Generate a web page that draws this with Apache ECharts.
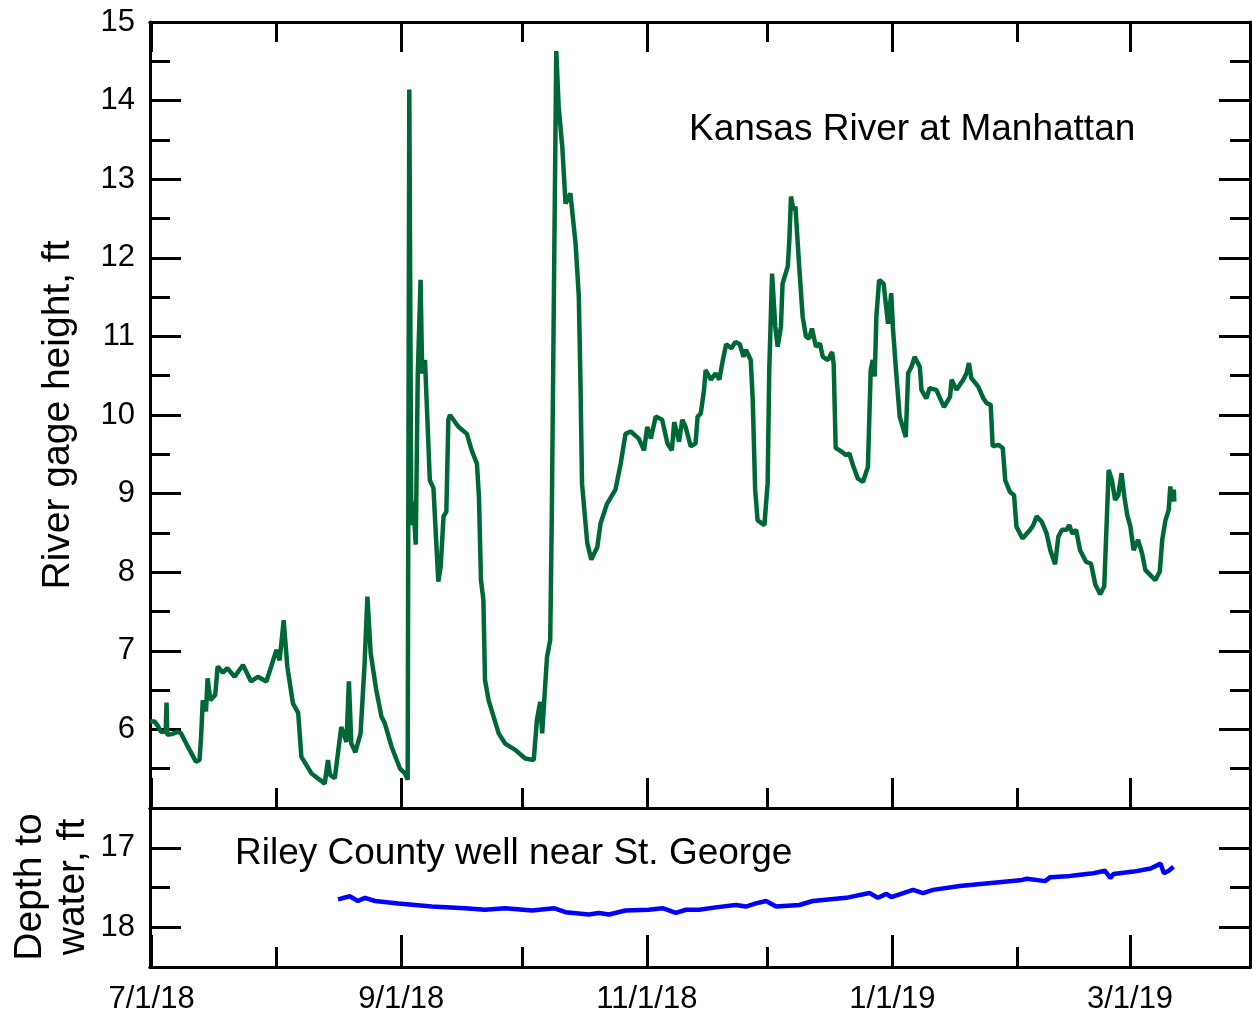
<!DOCTYPE html>
<html>
<head>
    <meta charset="utf-8">
    <title>Kansas River gage height and Riley County well</title>
    <script src="https://cdn.jsdelivr.net/npm/echarts@6/dist/echarts.min.js"></script>
    <style>
        html, body { margin: 0; padding: 0; background: #fff; }
    </style>
</head>
<body>
<div id="main" style="width: 1252px;height:1019px;"></div>
<script type="text/javascript">
    // days counted from 7/1/18
    var majorTickDays = [0, 62, 123, 184, 243];
    var minorTickDays = [31, 92, 153, 215];
    var dateLabels = ['7/1/18', '9/1/18', '11/1/18', '1/1/19', '3/1/19'];

    // Kansas River at Manhattan, gage height (ft)
    var riverDays = [
        -0.4, 0.7, 1.5, 2.3, 3.5, 3.7, 3.9, 5.0, 6.5, 7.3, 9.0, 11.0, 11.9, 12.3, 12.7, 13.5, 13.9, 14.6, 15.8, 16.4,
        17.7, 18.8, 20.6, 22.7, 24.7, 26.4, 28.5, 29.7, 31.0, 31.8, 32.8, 33.7, 35.1, 36.4, 37.2, 39.7, 43.0, 43.8, 44.3, 45.5,
        47.1, 48.4, 49.0, 49.6, 50.6, 51.9, 52.9, 53.6, 54.4, 55.8, 57.1, 57.9, 59.6, 61.7, 62.9, 63.6, 64.0, 64.5, 65.0, 65.6,
        66.1, 66.8, 67.2, 67.9, 69.1, 70.0, 71.2, 71.8, 72.5, 73.2, 73.7, 74.1, 76.2, 78.3, 79.5, 80.8, 81.3, 81.8, 82.4, 82.8,
        83.7, 86.2, 87.8, 90.3, 92.8, 94.9, 95.7, 96.5, 97.0, 98.2, 99.0, 99.4, 100.0, 100.5, 101.1, 102.0, 102.8, 103.4, 104.0, 105.3,
        106.1, 106.5, 106.9, 108.2, 109.2, 110.7, 111.5, 113.1, 115.2, 116.5, 117.7, 119.0, 121.0, 122.3, 123.1, 124.0, 125.2, 126.8, 128.1, 129.2,
        129.8, 131.0, 131.8, 132.6, 133.9, 135.1, 135.6, 136.4, 137.2, 137.6, 138.9, 140.1, 141.0, 141.8, 142.7, 144.0, 145.0, 146.1, 147.0, 147.6,
        148.8, 149.3, 149.9, 150.5, 152.2, 153.0, 153.4, 154.1, 154.9, 155.5, 156.3, 156.7, 158.0, 158.4, 158.8, 159.4, 159.9, 160.9, 161.7, 162.5,
        163.3, 164.0, 165.0, 166.0, 166.7, 168.0, 169.0, 169.4, 169.9, 170.9, 172.5, 173.3, 174.2, 175.4, 176.7, 177.9, 178.6, 179.1, 179.6, 180.0,
        180.7, 181.8, 182.9, 183.7, 184.1, 185.0, 185.8, 187.3, 187.9, 188.7, 189.5, 190.8, 191.2, 192.4, 193.2, 194.9, 196.8, 198.3, 198.7, 199.9,
        201.6, 202.4, 203.0, 203.6, 205.3, 206.6, 207.4, 208.4, 208.9, 210.3, 211.4, 212.0, 213.2, 214.2, 214.8, 216.3, 218.2, 219.0, 219.8, 221.1,
        222.3, 223.2, 224.4, 225.2, 226.1, 227.3, 227.9, 228.7, 229.6, 230.6, 232.1, 233.3, 234.4, 235.6, 236.6, 237.7, 238.5, 239.3, 240.1, 240.9,
        241.6, 242.3, 243.1, 243.9, 245.0, 246.0, 246.8, 248.1, 249.3, 250.4, 251.0, 251.8, 252.6, 253.0, 253.5, 253.9, 254.0
    ];
    var riverFt = [
        6.10, 6.10, 6.05, 5.97, 5.97, 6.34, 5.93, 5.94, 5.97, 5.95, 5.78, 5.59, 5.61, 5.91, 6.37, 6.23, 6.65, 6.37, 6.44, 6.80,
        6.72, 6.78, 6.67, 6.82, 6.61, 6.67, 6.61, 6.80, 7.01, 6.88, 7.39, 6.80, 6.33, 6.21, 5.65, 5.44, 5.31, 5.61, 5.42, 5.38,
        6.03, 5.84, 6.61, 5.82, 5.71, 5.95, 6.84, 7.69, 6.97, 6.50, 6.16, 6.08, 5.78, 5.50, 5.44, 5.36, 14.14, 8.60, 8.90, 8.35,
        10.50, 11.72, 10.53, 10.70, 9.17, 9.07, 7.88, 8.07, 8.71, 8.77, 9.94, 10.00, 9.85, 9.76, 9.55, 9.38, 8.96, 7.90, 7.65, 6.63,
        6.37, 5.95, 5.82, 5.74, 5.63, 5.61, 6.12, 6.35, 5.95, 6.92, 7.14, 8.75, 12.00, 14.63, 13.92, 13.41, 12.69, 12.75, 12.82, 12.18,
        11.51, 10.45, 9.13, 8.37, 8.16, 8.32, 8.62, 8.87, 9.05, 9.38, 9.76, 9.79, 9.70, 9.55, 9.85, 9.70, 9.98, 9.94, 9.64, 9.55,
        9.91, 9.66, 9.94, 9.85, 9.60, 9.64, 9.98, 10.02, 10.32, 10.57, 10.45, 10.53, 10.45, 10.68, 10.90, 10.85, 10.93, 10.90, 10.74, 10.83,
        10.70, 10.19, 9.05, 8.66, 8.60, 9.13, 10.57, 11.80, 11.12, 10.87, 11.12, 11.67, 11.89, 12.23, 12.78, 12.61, 12.65, 11.84, 11.25, 11.00,
        10.97, 11.10, 10.87, 10.91, 10.74, 10.70, 10.80, 10.65, 9.58, 9.55, 9.49, 9.51, 9.36, 9.19, 9.15, 9.34, 10.57, 10.70, 10.49, 11.25,
        11.72, 11.67, 11.16, 11.55, 11.12, 10.49, 9.98, 9.72, 10.53, 10.61, 10.74, 10.61, 10.32, 10.21, 10.34, 10.32, 10.10, 10.23, 10.45, 10.32,
        10.45, 10.53, 10.66, 10.47, 10.36, 10.21, 10.15, 10.13, 9.60, 9.62, 9.58, 9.17, 9.02, 8.98, 8.58, 8.43, 8.54, 8.60, 8.71, 8.64,
        8.49, 8.28, 8.10, 8.45, 8.54, 8.54, 8.60, 8.49, 8.54, 8.28, 8.13, 8.11, 7.84, 7.72, 7.82, 9.30, 9.17, 8.92, 8.98, 9.26,
        8.96, 8.73, 8.58, 8.28, 8.41, 8.24, 8.03, 7.96, 7.90, 8.01, 8.41, 8.66, 8.79, 9.09, 8.90, 9.05, 8.90
    ];

    // Riley County well near St. George, depth to water (ft)
    var wellDays = [
        46.3, 49.2, 51.2, 53.0, 55.5, 61.3, 69.6, 77.9, 82.8, 87.8, 94.5, 99.9, 102.8, 108.6, 111.1, 113.6, 117.7, 123.5, 126.9, 130.2,
        132.7, 136.0, 140.1, 145.1, 147.6, 150.1, 152.6, 155.1, 160.9, 164.2, 172.5, 178.3, 180.4, 182.5, 183.7, 189.1, 191.6, 194.1, 200.7, 215.7,
        217.4, 221.9, 223.2, 227.3, 230.6, 233.9, 236.8, 238.1, 238.9, 243.9, 248.1, 250.6, 251.4, 252.6, 253.8
    ];
    var wellDepth = [
        17.65, 17.61, 17.67, 17.63, 17.67, 17.70, 17.74, 17.76, 17.78, 17.76, 17.79, 17.76, 17.81, 17.84, 17.82, 17.84, 17.79, 17.78, 17.76, 17.82,
        17.78, 17.78, 17.75, 17.72, 17.74, 17.70, 17.67, 17.74, 17.72, 17.67, 17.63, 17.57, 17.63, 17.58, 17.62, 17.53, 17.57, 17.53, 17.48, 17.41,
        17.39, 17.42, 17.37, 17.36, 17.34, 17.32, 17.29, 17.38, 17.33, 17.30, 17.26, 17.20, 17.32, 17.29, 17.24
    ];

    var pair = function (xs, ys) {
        var res = [];
        for (var i = 0; i < xs.length; i++) {
            res.push([xs[i], ys[i]]);
        }
        return res;
    };

    var FONT = '"Liberation Sans", Arial, sans-serif';
    var lineStyle = { color: '#000', width: 3 };

    // x axis helper: one axis per edge and tick size
    var makeX = function (grid, pos, ticks, len, labels) {
        return {
            type: 'value', gridIndex: grid, position: pos, min: -0.4, max: 272.8,
            axisLine: { show: true, onZero: false, lineStyle: lineStyle },
            axisTick: { show: true, inside: true, length: len, customValues: ticks, lineStyle: { color: '#000', width: 3 } },
            axisLabel: {
                show: !!labels, customValues: ticks, margin: 17,
                fontFamily: FONT, fontSize: 31, color: '#000',
                formatter: function (v) {
                    var i = majorTickDays.indexOf(v);
                    return i >= 0 ? dateLabels[i] : '';
                }
            },
            splitLine: { show: false }
        };
    };

    var xAxes = [
        makeX(0, 'bottom', majorTickDays, 30, false),
        makeX(0, 'bottom', minorTickDays, 20, false),
        makeX(0, 'top', majorTickDays, 30, false),
        makeX(0, 'top', minorTickDays, 20, false),
        makeX(1, 'bottom', majorTickDays, 32, true),
        makeX(1, 'bottom', minorTickDays, 20, false)
    ];

    var topY = function (pos, withLabels) {
        return {
            type: 'value', gridIndex: 0, position: pos, min: 5, max: 15, interval: 1,
            name: withLabels ? 'River gage height, ft' : '',
            nameLocation: 'middle', nameGap: 72, nameRotate: 90,
            nameTextStyle: { fontFamily: FONT, fontSize: 39, color: '#000' },
            axisLine: { show: true, onZero: false, lineStyle: lineStyle },
            axisTick: { show: true, inside: true, length: 31, lineStyle: { color: '#000', width: 3 } },
            minorTick: { show: true, splitNumber: 2, length: 20, lineStyle: { color: '#000', width: 3 } },
            axisLabel: {
                show: withLabels, margin: 15, fontFamily: FONT, fontSize: 31, color: '#000',
                formatter: function (v) { return v === 5 ? '' : String(v); }
            },
            splitLine: { show: false }
        };
    };

    var wellY = function (pos, ticks, len, withLabels) {
        return {
            type: 'value', gridIndex: 1, position: pos, min: 16.5, max: 18.5, inverse: true,
            axisLine: { show: true, onZero: false, lineStyle: lineStyle },
            axisTick: { show: true, inside: true, length: len, customValues: ticks, lineStyle: { color: '#000', width: 3 } },
            axisLabel: {
                show: withLabels, customValues: ticks, margin: 15, fontFamily: FONT, fontSize: 31, color: '#000'
            },
            splitLine: { show: false }
        };
    };

    var yAxes = [
        topY('left', true),
        topY('right', false),
        wellY('left', [17, 18], 31, true),
        wellY('left', [17.5], 20, false),
        wellY('right', [17, 18], 31, false),
        wellY('right', [17.5], 20, false)
    ];

    var myChart = echarts.init(document.getElementById('main'));
    var option = {
        animation: false,
        backgroundColor: '#fff',
        textStyle: { fontFamily: FONT },
        grid: [
            { left: 150, right: 2, top: 22, height: 786, outerBoundsMode: 'none', containLabel: false },
            { left: 150, right: 2, top: 808, height: 159, outerBoundsMode: 'none', containLabel: false }
        ],
        xAxis: xAxes,
        yAxis: yAxes,
        graphic: [
            {
                type: 'text', left: 689, top: 111,
                style: { text: 'Kansas River at Manhattan', font: '37px ' + FONT, fill: '#000' }
            },
            {
                type: 'text', left: 235, top: 835,
                style: { text: 'Riley County well near St. George', font: '37px ' + FONT, fill: '#000' }
            },
            {
                // name of the lower y axis, two lines
                type: 'text', x: 52, y: 887, rotation: Math.PI / 2,
                style: {
                    text: 'Depth to\nwater, ft', font: '39px ' + FONT, fill: '#000',
                    lineHeight: 43, align: 'center', verticalAlign: 'middle'
                }
            }
        ],
        series: [
            {
                name: 'Kansas River at Manhattan',
                type: 'line', xAxisIndex: 0, yAxisIndex: 0,
                showSymbol: false,
                lineStyle: { color: '#006837', width: 4.5 },
                data: pair(riverDays, riverFt)
            },
            {
                name: 'Riley County well near St. George',
                type: 'line', xAxisIndex: 4, yAxisIndex: 2,
                showSymbol: false,
                lineStyle: { color: '#0000ff', width: 4.5 },
                data: pair(wellDays, wellDepth)
            }
        ]
    };
    myChart.setOption(option);
</script>
</body>
</html>
